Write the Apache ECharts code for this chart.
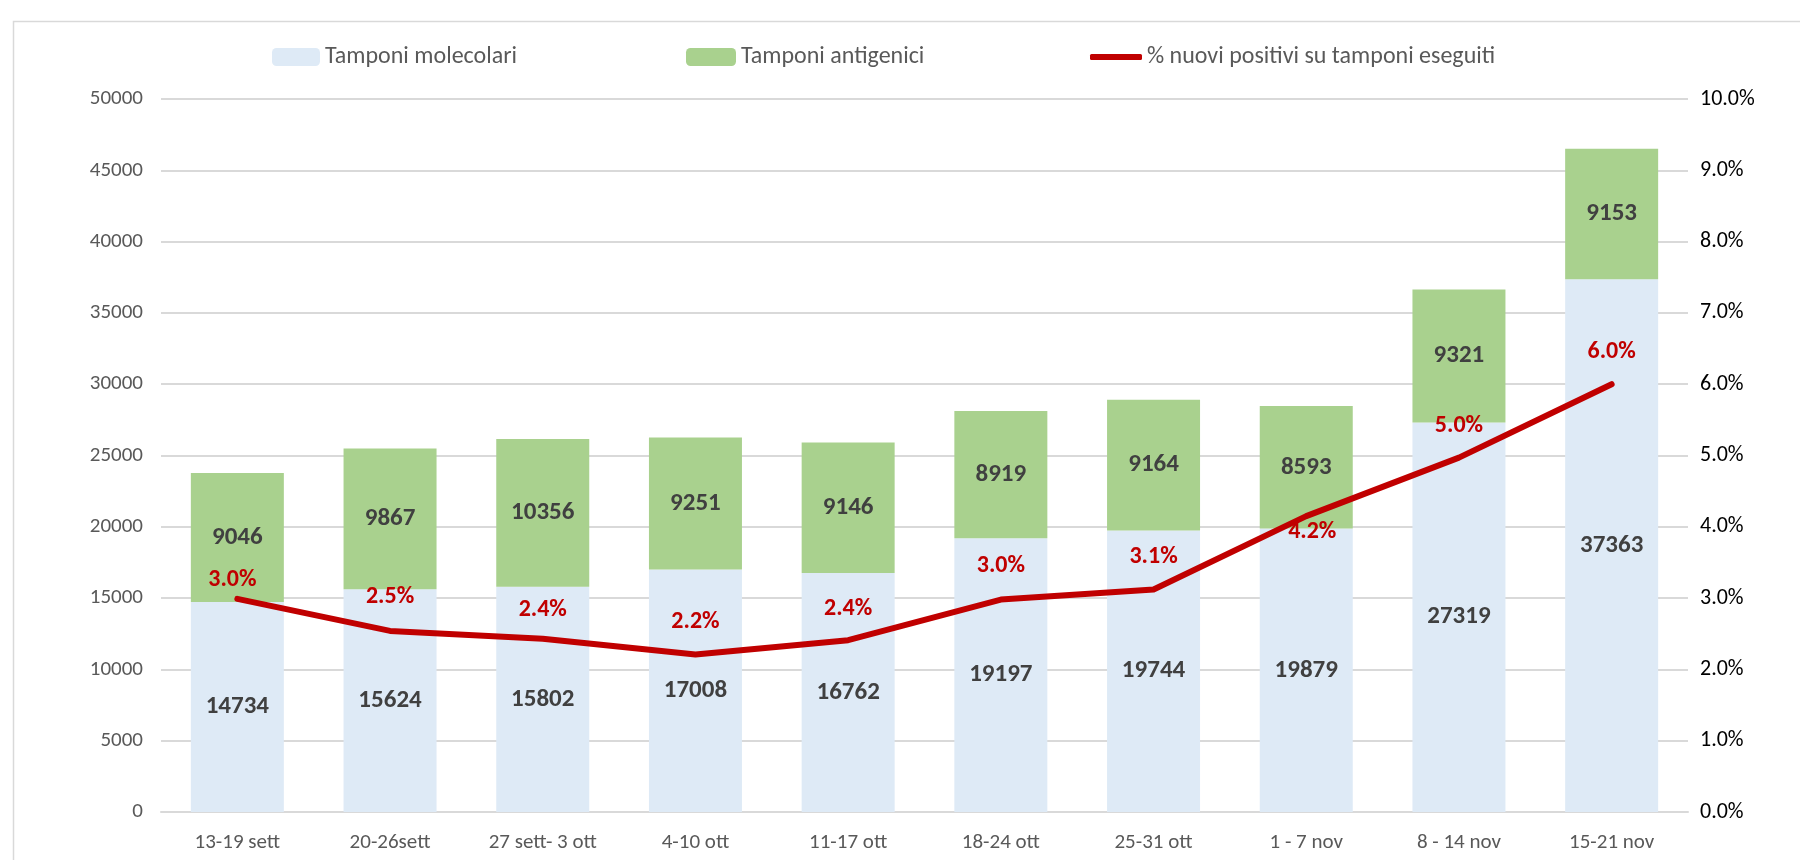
<!DOCTYPE html>
<html>
<head>
<meta charset="utf-8">
<script src="https://cdn.jsdelivr.net/npm/echarts@6/dist/echarts.min.js"></script>
<style>
  html, body { margin: 0; padding: 0; background: #fff; }
  #chart { width: 1800px; height: 860px; }
</style>
</head>
<body>
<div id="chart"></div>
<script>
// settimane
const categories = ["13-19 sett", "20-26sett", "27 sett- 3 ott", "4-10 ott", "11-17 ott",
  "18-24 ott", "25-31 ott", "1 - 7 nov", "8 - 14 nov", "15-21 nov"];
// tamponi
const molecolari = [14734, 15624, 15802, 17008, 16762, 19197, 19744, 19879, 27319, 37363];
const antigenici = [9046, 9867, 10356, 9251, 9146, 8919, 9164, 8593, 9321, 9153];
// % positivi (stimati dal grafico)
const positivi = [2.99, 2.54, 2.43, 2.21, 2.41, 2.98, 3.12, 4.15, 4.97, 6.0];
// etichette asse sinistro
const leftTicks = [0, 5000, 10000, 15000, 20000, 25000, 30000, 35000, 40000, 45000, 50000];

const FONT = "Carlito, 'Liberation Sans Narrow', 'Open Sans', sans-serif";
const chart = echarts.init(document.getElementById("chart"));

// posizione etichette della linea
const labelPos = ["top", "top", "top", "top", "top", "top", "top", "bottom", "top", "top"];
const labelOffsets = [[-5, -5], [0, -20], [0, -15], [0, -19], [0, -18],
  [0, -20], [0, -19], [6, 2], [0, -18], [0, -19]];

const lineData = positivi.map((v, i) => ({
  value: v,
  label: {
    position: labelPos[i],
    offset: labelOffsets[i],
  },
}));

const option = {
  animation: false,
  textStyle: { fontFamily: FONT },
  graphic: [
    {
      type: "rect",
      left: 11,
      top: 19,
      shape: { width: 1820, height: 900 },
      style: { fill: "none", stroke: "#D9D9D9", lineWidth: 1.5 },
      silent: true,
    },
  ],
  legend: [
    {
      left: 267, top: 40,
      data: ["Tamponi molecolari"],
      itemWidth: 48, itemHeight: 18,
      textStyle: { color: "#595959", fontSize: 24, fontFamily: FONT },
    },
    {
      left: 681, top: 40,
      data: ["Tamponi antigenici"],
      itemWidth: 50, itemHeight: 18,
      textStyle: { color: "#595959", fontSize: 24, fontFamily: FONT },
    },
    {
      left: 1085, top: 40,
      data: [{ name: "% nuovi positivi su tamponi eseguiti", icon: "roundRect" }],
      itemWidth: 52, itemHeight: 6,
      textStyle: { color: "#595959", fontSize: 24, fontFamily: FONT },
    },
  ],
  grid: { left: 161, right: 112, top: 99, bottom: 48, containLabel: false },
  xAxis: {
    type: "category",
    data: categories,
    axisLine: { lineStyle: { color: "#D9D9D9", width: 2 } },
    axisTick: { show: false },
    axisLabel: { color: "#595959", fontSize: 21, margin: 20, fontFamily: FONT },
  },
  yAxis: [
    {
      type: "value",
      min: leftTicks[0],
      max: leftTicks[leftTicks.length - 1],
      interval: 5000,
      axisLine: { show: false },
      axisTick: { show: false },
      splitLine: { lineStyle: { color: "#D9D9D9", width: 2 } },
      axisLabel: {
        color: "#595959", fontSize: 21, margin: 18, fontFamily: FONT,
        formatter: (v) => String(v),
      },
    },
    {
      type: "value",
      min: 0,
      max: 10,
      interval: 1,
      axisLine: { show: false },
      axisTick: { show: false },
      splitLine: { show: false },
      axisLabel: {
        color: "#000",
        fontSize: 22,
        margin: 12,
        fontFamily: FONT,
        formatter: (v) => v.toFixed(1) + "%",
      },
    },
  ],
  series: [
    {
      name: "Tamponi molecolari",
      type: "bar",
      stack: "tamponi",
      data: molecolari,
      barWidth: 93,
      itemStyle: { color: "#DEEAF6" },
      label: {
        show: true,
        position: "inside",
        color: "#404040",
        fontWeight: "bold",
        fontSize: 25,
        fontFamily: FONT,
      },
    },
    {
      name: "Tamponi antigenici",
      type: "bar",
      stack: "tamponi",
      data: antigenici,
      barWidth: 93,
      itemStyle: { color: "#A9D18E" },
      label: {
        show: true,
        position: "inside",
        color: "#404040",
        fontWeight: "bold",
        fontSize: 25,
        fontFamily: FONT,
      },
    },
    {
      name: "% nuovi positivi su tamponi eseguiti",
      type: "line",
      yAxisIndex: 1,
      data: lineData,
      symbol: "circle",
      symbolSize: 1,
      showSymbol: true,
      lineStyle: { color: "#C00000", width: 6, cap: "round", join: "round" },
      itemStyle: { color: "#C00000" },
      z: 5,
      label: {
        show: true,
        distance: 0,
        lineHeight: 26,
        color: "#C00000",
        fontWeight: "bold",
        fontSize: 24,
        fontFamily: FONT,
        formatter: (p) => p.value.toFixed(1) + "%",
      },
    },
  ],
};

chart.setOption(option);
</script>
</body>
</html>
